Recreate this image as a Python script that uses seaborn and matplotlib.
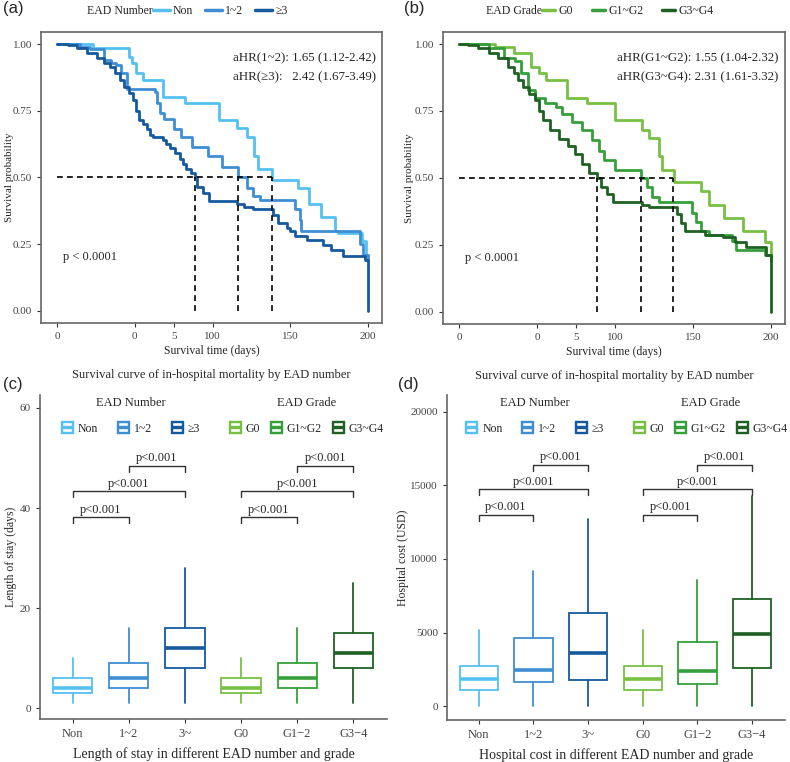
import numpy as np
import pandas as pd
import seaborn as sns
import matplotlib.pyplot as plt
from matplotlib.lines import Line2D

# ---- survival curves, panel (a): EAD number ----
non_t = [0, 23, 46, 48, 51, 55, 68, 82, 104, 115.5, 122, 127, 129.5, 138, 155, 162, 170, 179, 181, 196, 199, 200]
non_s = [1.0, 0.984, 0.95, 0.93, 0.89, 0.865, 0.80, 0.78, 0.715, 0.684, 0.65, 0.58, 0.53, 0.49, 0.46, 0.40, 0.35, 0.30, 0.29, 0.26, 0.21, 0.21]
n12_t = [0, 15, 21, 30, 35, 38, 41, 45, 63, 64.5, 66, 69, 75, 80, 87, 97, 106, 116.6, 122, 126, 130.5, 153, 156, 157, 195, 197, 200]
n12_s = [1.0, 0.99, 0.98, 0.94, 0.93, 0.92, 0.89, 0.83, 0.82, 0.78, 0.74, 0.72, 0.68, 0.65, 0.615, 0.58, 0.54, 0.50, 0.46, 0.43, 0.415, 0.38, 0.34, 0.30, 0.25, 0.21, 0.19]
n3_t = [0, 7, 12.6, 19, 25.5, 30, 34, 37, 40.5, 43, 46, 49, 51, 53, 55, 57.7, 60, 62, 68, 70, 72.7, 76, 79, 81, 83, 86,
        88.7, 90, 94, 98, 115.5, 120, 126, 139, 142, 148, 150, 153, 160.5, 171, 176.5, 184, 198, 200]
n3_s = [1.0, 0.995, 0.984, 0.965, 0.946, 0.93, 0.915, 0.89, 0.865, 0.84, 0.815, 0.79, 0.75, 0.715, 0.70, 0.68, 0.66, 0.65, 0.64, 0.625, 0.61, 0.59, 0.57, 0.55, 0.53, 0.515,
        0.50, 0.465, 0.44, 0.41, 0.40, 0.39, 0.38, 0.36, 0.33, 0.31, 0.30, 0.28, 0.265, 0.246, 0.227, 0.205, 0.19, 0.0]
num_medians = [89, 116.6, 138]

# ---- survival curves, panel (b): EAD grade ----
g0_t = [0, 23, 35, 46, 51, 56, 69, 82, 100, 117.5, 122, 128, 130, 138, 155, 160, 170, 182, 196, 200]
g0_s = [1.0, 0.99, 0.965, 0.915, 0.89, 0.865, 0.80, 0.78, 0.715, 0.68, 0.65, 0.58, 0.53, 0.485, 0.45, 0.40, 0.35, 0.30, 0.26, 0.215]
g12_t = [0, 19, 28.5, 36, 40, 44, 49, 55, 62, 66, 72.5, 79, 85, 89.6, 93, 100, 116.4, 120.7, 124, 128, 149.6, 152, 155, 160, 175, 177.5, 196, 200]
g12_s = [1.0, 0.985, 0.946, 0.935, 0.89, 0.83, 0.80, 0.78, 0.765, 0.74, 0.71, 0.68, 0.64, 0.60, 0.565, 0.53, 0.50, 0.465, 0.43, 0.41, 0.37, 0.335, 0.30, 0.285, 0.265, 0.23, 0.21, 0.19]
g34_t = [0, 6, 12.4, 19, 25, 31.7, 35, 38, 41, 44.6, 49, 51, 54, 58.5, 64, 70, 74.6, 79, 83, 88.5, 91, 95, 99,
         117.5, 122, 140, 142, 145, 158, 169, 177, 184, 197, 200]
g34_s = [1.0, 0.995, 0.984, 0.965, 0.946, 0.915, 0.89, 0.865, 0.84, 0.815, 0.79, 0.75, 0.715, 0.68, 0.646, 0.62, 0.59, 0.55, 0.52, 0.50, 0.465, 0.44, 0.41,
         0.40, 0.39, 0.365, 0.33, 0.30, 0.285, 0.278, 0.26, 0.243, 0.21, 0.0]
grade_medians = [88.5, 116.9, 137.4]

x_ticks = [0, 50, 75, 100, 150, 200]
x_ticklabels = ['0', '0', '5', '100', '150', '200']

num_labels = ['Non', '1~2', '≥3']
grade_labels = ['G0', 'G1~G2', 'G3~G4']
num_colors = ['#55C1F0', '#3F8ED4', '#165A9E']
grade_colors = ['#78C043', '#35A03A', '#1F6123']

# ---- box plots (c) length of stay, (d) hospital cost ----
box_cats = ['Non', '1~2', '3~', 'G0', 'G1\u22122', 'G3\u22124']
los_lo = [1, 1, 1, 1, 1, 1]
los_q1 = [3, 4, 8, 3, 4, 8]
los_med = [4, 6, 12, 4, 6, 11]
los_q3 = [6, 9, 16, 6, 9, 15]
los_hi = [10, 16, 28, 10, 16, 25]
cost_lo = [0, 0, 0, 0, 0, 0]
cost_q1 = [1100, 1620, 1770, 1100, 1500, 2580]
cost_med = [1850, 2450, 3580, 1850, 2380, 4920]
cost_q3 = [2750, 4650, 6300, 2750, 4330, 7280]
cost_hi = [5200, 9200, 12700, 5200, 8600, 14300]
los_brackets = [38.2, 43.4, 48.4]
cost_brackets = [13000, 14760, 16400]
bracket_pairs = [(0, 1), (0, 2), (1, 2)]

sns.set_style('ticks')
plt.rcParams['font.family'] = ['Liberation Serif', 'DejaVu Serif']
plt.rcParams['axes.edgecolor'] = '#666666'
plt.rcParams['xtick.color'] = '#333333'
plt.rcParams['ytick.color'] = '#333333'

W, H = 790, 762
fig = plt.figure(figsize=(W / 100, H / 100), dpi=100)


def fx(px):
    return px / W


def fy(py):
    return 1 - py / H


def km_panel(ax, times, survs, labels, colors, medians, hr_lines, ylab_x):
    rows = []
    for t, s, lab in zip(times, survs, labels):
        rows.append(pd.DataFrame({'time': t, 'surv': s, 'group': lab}))
    df = pd.concat(rows, ignore_index=True)
    sns.lineplot(data=df, x='time', y='surv', hue='group', hue_order=labels,
                 palette=colors, drawstyle='steps-post', estimator=None, sort=False,
                 linewidth=2.0, legend=False, ax=ax)
    ax.plot([0, max(medians)], [0.5, 0.5], ls=(0, (3.5, 2.5)), color='black', lw=1.2)
    for m in medians:
        ax.plot([m, m], [0, 0.5], ls=(0, (3.5, 2.5)), color='black', lw=1.2)
    ax.set_xlim(-10.3, 209)
    ax.set_ylim(-0.046, 1.045)
    ax.set_xticks(x_ticks)
    ax.set_xticklabels(x_ticklabels)
    ax.set_yticks([0, 0.25, 0.5, 0.75, 1.0])
    ax.set_yticklabels(['0.00', '0.25', '0.50', '0.75', '1.00'])
    ax.tick_params(labelsize=8, length=3, width=0.8, labelcolor='#444444')
    ax.set_xlabel('Survival time (days)', fontsize=8.5, labelpad=3)
    ax.set_ylabel('Survival probability', fontsize=8)
    ax.yaxis.set_label_coords(ylab_x, 0.5)
    for sp in ax.spines.values():
        sp.set_visible(True)
        sp.set_linewidth(1.2)
    ax.text(4, 0.2, 'p < 0.0001', fontsize=9, va='center', ha='left')
    ax.text(205, 0.945, hr_lines[0], fontsize=9.3, ha='right', va='center')
    ax.text(205, 0.875, hr_lines[1], fontsize=9.3, ha='right', va='center')
    ax.text(0.5, -0.178, 'Survival curve of in-hospital mortality by EAD number',
            transform=ax.transAxes, fontsize=9, ha='center', va='center')


def top_legend(title, right_px, labels, colors, hlen, colsp):
    fig.text(fx(right_px), fy(11), title, fontsize=8.5, ha='right', va='center')
    handles = [Line2D([], [], color=c, lw=2.5) for c in colors]
    fig.legend(handles, labels, loc='center left', bbox_to_anchor=(fx(right_px), fy(11)),
               ncol=3, frameon=False, borderpad=0, borderaxespad=0, handlelength=hlen,
               handletextpad=0.3, columnspacing=colsp, fontsize=8.5)


ax_a = fig.add_axes([fx(41), fy(323), fx(382 - 41), (323 - 32) / H])
km_panel(ax_a, [non_t, n12_t, n3_t], [non_s, n12_s, n3_s], num_labels, num_colors, num_medians,
         ['aHR(1~2): 1.65 (1.12-2.42)', 'aHR(≥3):   2.42 (1.67-3.49)'], -0.079)
top_legend('EAD Number', 153, num_labels, num_colors, 1.4, 1.0)

ax_b = fig.add_axes([fx(443), fy(324), fx(785 - 443), (324 - 32) / H])
km_panel(ax_b, [g0_t, g12_t, g34_t], [g0_s, g12_s, g34_s], grade_labels, grade_colors, grade_medians,
         ['aHR(G1~G2): 1.55 (1.04-2.32)', 'aHR(G3~G4): 2.31 (1.61-3.32)'], -0.085)
top_legend('EAD Grade', 542, grade_labels, grade_colors, 1.1, 1.6)


def box_panel(ax, lo, q1, med, q3, hi, brackets, tick_drop, text_gap, ylim, yticks, ylabel, xlabel, leg_x, ylab_x):
    stats = []
    for i in range(len(box_cats)):
        stats.append({'whislo': lo[i], 'q1': q1[i], 'med': med[i], 'q3': q3[i], 'whishi': hi[i], 'label': box_cats[i]})
    colors = num_colors + grade_colors
    bp = ax.bxp(stats, positions=range(len(box_cats)), widths=0.7, showfliers=False, showcaps=False,
                patch_artist=True)
    for i, c in enumerate(colors):
        bp['boxes'][i].set(facecolor='white', edgecolor=c, linewidth=1.3)
        bp['medians'][i].set(color=c, linewidth=2.6)
        bp['whiskers'][2 * i].set(color=c, linewidth=1.3)
        bp['whiskers'][2 * i + 1].set(color=c, linewidth=1.3)
    for off in (0, 3):
        for (a, b), yv in zip(bracket_pairs, brackets):
            ax.plot([a + off, a + off, b + off, b + off], [yv - tick_drop, yv, yv, yv - tick_drop],
                    color='#333333', lw=1)
            ax.text((a + b) / 2 + off, yv + text_gap, 'p<0.001', fontsize=9, ha='center', va='bottom')
    ax.set_xlim(-0.58, 5.6)
    ax.set_ylim(*ylim)
    ax.set_yticks(yticks)
    ax.set_xticks(range(len(box_cats)))
    ax.set_xticklabels(box_cats)
    ax.tick_params(labelsize=8, length=3, width=0.8, labelcolor='#444444')
    ax.tick_params(axis='x', labelsize=9)
    sns.despine(ax=ax)
    ax.spines['left'].set_linewidth(1.2)
    ax.spines['bottom'].set_linewidth(1.2)
    ax.set_ylabel(ylabel, fontsize=8.5)
    ax.yaxis.set_label_coords(ylab_x, 0.5)
    ax.set_xlabel(xlabel, fontsize=10, labelpad=5)
    for k, (labs, cols) in enumerate([(num_labels, num_colors), (grade_labels, grade_colors)]):
        handles = [Line2D([], [], ls='none', marker='$\\boxminus$', markersize=9, color=c) for c in cols]
        leg = ax.legend(handles, labs, title=['EAD Number', 'EAD Grade'][k], loc='upper left',
                        bbox_to_anchor=(leg_x[k], 0.995), ncol=3, frameon=False, fontsize=8.5,
                        title_fontsize=9, handlelength=1.0, handletextpad=0.4,
                        columnspacing=[1.6, 0.85][k], borderpad=0, borderaxespad=0)
        leg._legend_box.sep = 10
        if k == 0:
            ax.add_artist(leg)


ax_c = fig.add_axes([fx(40), fy(719), fx(387 - 40), (719 - 395) / H])
box_panel(ax_c, los_lo, los_q1, los_med, los_q3, los_hi, los_brackets, 1.2, 0.3,
          (-2.2, 62.6), [0, 20, 40, 60], 'Length of stay (days)',
          'Length of stay in different EAD number and grade', (0.062, 0.545), -0.066)

ax_d = fig.add_axes([fx(447), fy(720), fx(785 - 447), (720 - 395) / H])
box_panel(ax_d, cost_lo, cost_q1, cost_med, cost_q3, cost_hi, cost_brackets, 400, 100,
          (-950, 21150), [0, 5000, 10000, 15000, 20000], 'Hospital cost (USD)',
          'Hospital cost in different EAD number and grade', (0.055, 0.55), -0.112)

for lab, x, y in [('(a)', 3, 8), ('(b)', 404, 8), ('(c)', 3, 384), ('(d)', 398, 384)]:
    fig.text(fx(x), fy(y), lab, fontsize=12, ha='left', va='center', family=['Liberation Sans', 'DejaVu Sans'])

fig.savefig('out.png', dpi=100)
